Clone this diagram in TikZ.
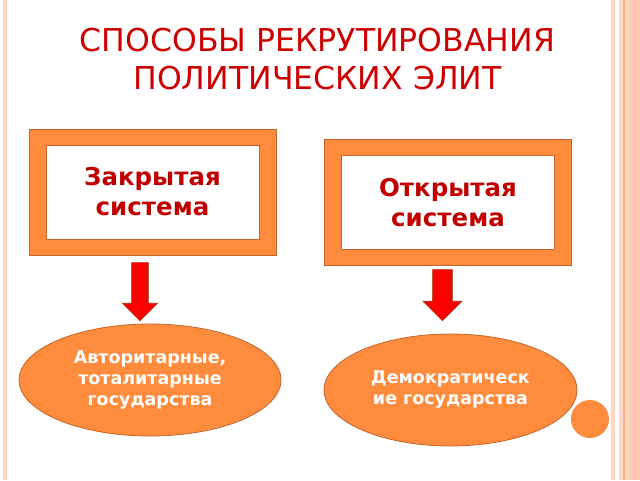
\documentclass[tikz,border=0pt]{standalone}
\usepackage{fontspec}
\setmainfont{DejaVu Sans}
\usepackage{pgf,tikz}
\usetikzlibrary{arrows,shapes.geometric,shapes.arrows}

\definecolor{slideorange}{RGB}{255,140,60}
\definecolor{framebrown}{RGB}{196,102,44}
\definecolor{titlered}{RGB}{204,0,0}
\definecolor{textred}{RGB}{192,0,0}
\definecolor{arrowedge}{RGB}{170,40,0}
\definecolor{stripelight}{RGB}{255,214,200}
\definecolor{stripemid}{RGB}{255,200,180}
\definecolor{stripedark}{RGB}{255,172,130}

\tikzset{
  frame/.style={fill=slideorange, draw=framebrown, line width=0.8pt,
    minimum width=247pt, minimum height=126pt, inner sep=0pt},
  pane/.style={fill=white, draw=framebrown, line width=0.6pt,
    minimum width=213pt, minimum height=94pt, inner sep=0pt, align=center,
    text=textred, font=\bfseries\fontsize{24.5}{30}\selectfont},
  statebox/.style={ellipse, fill=slideorange, draw=framebrown, line width=0.8pt,
    inner sep=0pt, align=center, text=white,
    font=\bfseries\fontsize{17.5}{21}\selectfont},
  downarrow/.style={single arrow, shape border rotate=270, fill=red,
    draw=arrowedge, line width=0.6pt, single arrow tip angle=90, anchor=tip}
}

\begin{document}
\begin{tikzpicture}[x=1pt, y=-1pt]
\useasboundingbox (0,0) rectangle (640,480);
\fill[stripelight] (3,0) rectangle (7,480);
\fill[stripelight] (611,0) rectangle (615,480);
\fill[stripelight] (619,0) rectangle (623,480);
\fill[stripedark] (623,0) rectangle (625,480);
\fill[stripelight] (625,0) rectangle (629,480);
\fill[stripemid] (629,0) rectangle (640,480);

\node [text=titlered, font=\fontsize{31.5}{38}\selectfont, align=center] (title) at (317.5,59.5)
  {СПОСОБЫ РЕКРУТИРОВАНИЯ\\ПОЛИТИЧЕСКИХ ЭЛИТ};

\node [frame] (closedframe) at (152.5,192) {};
\node [pane] (closed) at (152.5,192) {Закрытая\\система};
\node [frame] (openframe) at (447.5,202) {};
\node [pane] (open) at (448,202.5) {Открытая\\система};

\node [downarrow, inner sep=8pt, minimum height=58pt, minimum width=34pt,
  single arrow head extend=9pt] (closedarrow) at (140,321) {};
\node [downarrow, inner sep=9.5pt, minimum height=51pt, minimum width=38pt,
  single arrow head extend=9.5pt] (openarrow) at (442.5,321) {};

\node [statebox, minimum width=262pt, minimum height=112pt] (authoritarian) at (150,380)
  {Авторитарные,\\тоталитарные \\ государства};
\node [statebox, minimum width=253pt, minimum height=112pt] (democratic) at (450.5,390)
  {Демократическ\\ие государства};

\node [circle, fill=slideorange, minimum size=38pt, inner sep=0pt] (dot) at (590,419) {};
\end{tikzpicture}
\end{document}
